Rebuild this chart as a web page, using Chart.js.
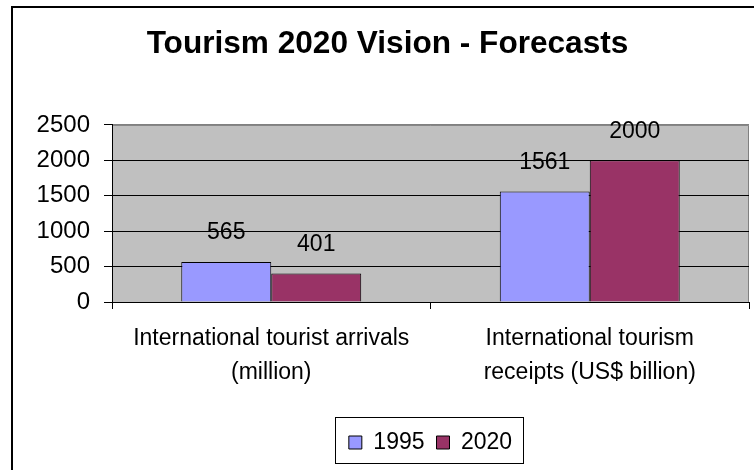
<!DOCTYPE html>
<html>
<head>
<meta charset="utf-8">
<script src="https://cdn.jsdelivr.net/npm/chart.js@4.4.1/dist/chart.umd.min.js"></script>
<style>
  html, body { margin: 0; padding: 0; background: #fff; overflow: hidden; }
  #wrap { position: relative; width: 754px; height: 470px; }
  #frame { position: absolute; left: 11px; top: 6px; width: 800px; height: 500px; border: 2px solid #000; box-sizing: border-box; }
  canvas { position: absolute; left: 0; top: 0; }
</style>
</head>
<body>
<div id="wrap">
  <div id="frame"></div>
  <canvas id="chart" width="754" height="470"></canvas>
</div>
<script>
const categories = [
  ["International tourist arrivals", "(million)"],
  ["International tourism", "receipts (US$ billion)"]
];
const seriesNames = ["1995", "2020"];
const values1995 = [565, 1561];
const values2020 = [401, 2000];
const yTicks = [0, 500, 1000, 1500, 2000, 2500];

const FONT = "Arial, 'Liberation Sans', sans-serif";

// grey plot area + its top/right edge
const plotBg = {
  id: "plotBg",
  beforeDraw(chart) {
    const { ctx, chartArea: a } = chart;
    ctx.save();
    ctx.fillStyle = "#c0c0c0";
    ctx.fillRect(a.left, a.top, a.right - a.left, a.bottom - a.top);
    ctx.strokeStyle = "#808080";
    ctx.lineWidth = 1;
    ctx.beginPath();
    ctx.moveTo(a.left, a.top + 0.5);
    ctx.lineTo(a.right - 0.5, a.top + 0.5);
    ctx.lineTo(a.right - 0.5, a.bottom);
    ctx.stroke();
    ctx.restore();
  }
};

// value labels above bars
const valueLabels = {
  id: "valueLabels",
  afterDatasetsDraw(chart) {
    const { ctx } = chart;
    ctx.save();
    ctx.font = "23px " + FONT;
    ctx.fillStyle = "#000";
    ctx.textAlign = "center";
    ctx.textBaseline = "middle";
    chart.data.datasets.forEach((ds, i) => {
      chart.getDatasetMeta(i).data.forEach((bar, j) => {
        ctx.fillText(String(ds.data[j]), bar.x, bar.y - 29);
      });
    });
    ctx.restore();
  }
};

// box round the legend
const legendBox = {
  id: "legendBox",
  afterDraw(chart) {
    const boxes = chart.legend.legendHitBoxes;
    if (!boxes || !boxes.length) return;
    const first = boxes[0];
    const last = boxes[boxes.length - 1];
    const { ctx } = chart;
    ctx.save();
    ctx.strokeStyle = "#000";
    ctx.lineWidth = 1;
    const x0 = Math.round(first.left - 14) + 0.5;
    const x1 = Math.round(last.left + last.width + 11) + 0.5;
    const yc = first.top + first.height / 2;
    ctx.strokeRect(x0, Math.round(yc - 26) + 0.5, x1 - x0, 46);
    ctx.restore();
  }
};

new Chart(document.getElementById("chart"), {
  type: "bar",
  data: {
    labels: categories,
    datasets: [
      { label: seriesNames[0], data: values1995, backgroundColor: "#9999ff", borderColor: "#000", borderWidth: 1 },
      { label: seriesNames[1], data: values2020, backgroundColor: "#993366", borderColor: "#000", borderWidth: 1 }
    ]
  },
  options: {
    responsive: false,
    animation: false,
    layout: { padding: { left: 26, right: 5, top: 0, bottom: 6 } },
    datasets: { bar: { categoryPercentage: 0.565, barPercentage: 1 } },
    plugins: {
      title: {
        display: true,
        text: "Tourism 2020 Vision - Forecasts",
        color: "#000",
        font: { family: FONT, size: 31.6, weight: "bold" },
        padding: { top: 25, bottom: 62 }
      },
      legend: {
        display: true,
        position: "bottom",
        fullSize: false,
        labels: {
          color: "#000",
          font: { family: FONT, size: 23 },
          boxWidth: 13,
          boxHeight: 13,
          padding: 12,
          useBorderRadius: false
        }
      },
      tooltip: { enabled: false }
    },
    scales: {
      x: {
        afterFit(scale) { scale.height = 117; },
        grid: { offset: true, drawOnChartArea: false, drawTicks: true, tickLength: 7, tickColor: "#000" },
        border: { color: "#000", width: 1 },
        ticks: {
          color: "#000",
          font: { family: FONT, size: 23, lineHeight: 1.48 },
          padding: 13,
          maxRotation: 0
        }
      },
      y: {
        min: 0,
        max: 2500,
        afterFit(scale) { scale.width = 86; },
        afterBuildTicks(scale) { scale.ticks = yTicks.map(v => ({ value: v })); },
        grid: {
          color: (c) => (c.tick && c.tick.value === 2500 ? "#808080" : "#000"),
          tickColor: "#000",
          tickLength: 8,
          drawTicks: true
        },
        border: { color: "#000", width: 1 },
        ticks: {
          color: "#000",
          font: { family: FONT, size: 24 },
          padding: 14,
          callback: (v) => String(v)
        }
      }
    }
  },
  plugins: [plotBg, valueLabels, legendBox]
});
</script>
</body>
</html>
